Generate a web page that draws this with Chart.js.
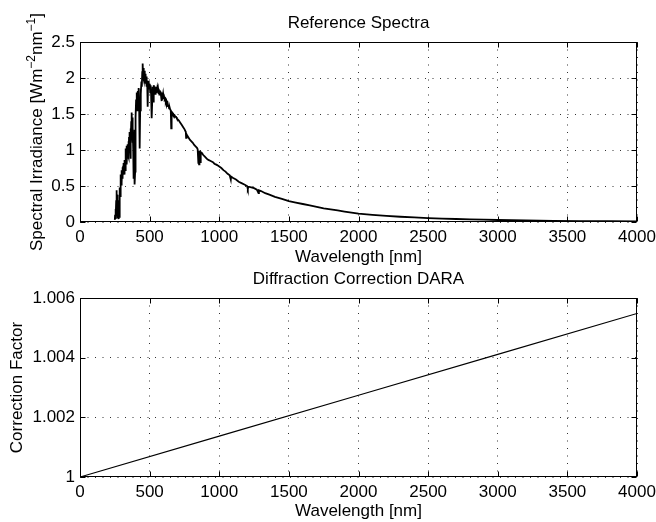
<!DOCTYPE html>
<html>
<head>
<meta charset="utf-8">
<script src="https://cdn.jsdelivr.net/npm/chart.js@4/dist/chart.umd.min.js"></script>
<style>
  html, body { margin: 0; padding: 0; background: #ffffff; }
  #wrap { position: relative; width: 656px; height: 522px; overflow: hidden; }
  #wrap canvas { position: absolute; left: 0; }
</style>
</head>
<body>
<div id="wrap">
  <canvas id="spectra" width="700" height="270" style="top:0px"></canvas>
  <canvas id="dara" width="700" height="256" style="top:266px"></canvas>
</div>
<script>
// Reference solar spectrum (wavelength in nm, spectral irradiance in W m^-2 nm^-1)
const wavelengthNm = [
  250, 252, 254, 256, 258, 260, 262, 264, 266, 268,
  270, 272, 274, 276, 278, 280, 282, 284, 286, 288,
  290, 292, 294, 296, 298, 300, 302, 304, 306, 308,
  310, 312, 314, 316, 318, 320, 322, 324, 326, 328,
  330, 332, 334, 336, 338, 340, 342, 344, 346, 348,
  350, 352, 354, 356, 358, 360, 362, 364, 366, 368,
  370, 372, 374, 376, 378, 380, 382, 384, 386, 388,
  390, 392, 394, 396, 398, 400,
  403, 406, 409, 412, 415, 418, 421, 424, 427, 430,
  432, 435, 438, 441, 444, 447, 450, 453, 456, 459,
  462, 465, 468, 471, 474, 477, 480, 483, 486, 489,
  492, 495, 498, 501, 504, 507, 510, 513, 516, 519,
  522, 525, 528, 531, 534, 537, 540, 543, 546, 549,
  552, 555, 558, 561, 564, 567, 570, 573, 576, 579,
  582, 585, 588, 591, 594, 597, 600, 604, 608, 612,
  616, 620, 624, 628, 632, 636, 640, 644, 648, 652,
  655, 658, 662, 666, 670, 675, 680, 685, 690, 695,
  700,
  710, 720, 730, 740, 750, 760, 762, 765, 770, 780,
  790, 800, 810, 820, 830, 840, 845, 850, 853, 855,
  858, 862, 866, 868, 875, 885, 895, 905, 915, 925,
  935, 945, 955, 965, 975, 985, 1000, 1015, 1030, 1045,
  1060, 1075, 1083, 1085, 1100, 1120, 1140, 1160, 1180, 1200,
  1205, 1210, 1230, 1250, 1270, 1282, 1285, 1300, 1330, 1360,
  1400, 1450, 1500, 1550, 1600, 1650, 1700, 1750, 1800, 1850,
  1900, 1950, 2000, 2100, 2200, 2300, 2400, 2500, 2600, 2700,
  2800, 2900, 3000, 3200, 3400, 3600, 3800, 4000
];
const irradiance = [
  0.03, 0.10, 0.04, 0.18, 0.06, 0.30, 0.44, 0.25, 0.38, 0.12,
  0.05, 0.20, 0.30, 0.08, 0.04, 0.14, 0.07, 0.32, 0.48, 0.36,
  0.58, 0.45, 0.66, 0.52, 0.72, 0.55, 0.70, 0.60, 0.76, 0.64,
  0.78, 0.68, 0.82, 0.70, 0.78, 0.66, 0.86, 0.72, 0.92, 0.80,
  1.02, 0.86, 1.06, 0.80, 0.95, 1.08, 0.88, 1.05, 0.92, 1.12,
  0.90, 1.18, 0.98, 1.25, 1.05, 1.15, 0.88, 1.30, 1.12, 1.40,
  1.22, 1.52, 1.30, 1.45, 1.10, 1.32, 1.02, 0.60, 1.20, 1.05,
  1.28, 0.85, 0.52, 0.70, 1.15, 1.45,
  1.70, 1.62, 1.80, 1.55, 1.82, 1.68, 1.86, 1.72, 1.50, 1.02,
  1.55, 1.85, 1.78, 1.95, 1.88, 2.08, 2.20, 2.02, 2.14, 1.98,
  2.10, 1.96, 2.06, 1.92, 2.02, 1.88, 1.98, 1.90, 1.60, 1.96,
  1.84, 1.94, 1.86, 1.92, 1.80, 1.90, 1.82, 1.74, 1.44, 1.70,
  1.88, 1.80, 1.66, 1.90, 1.82, 1.88, 1.78, 1.86, 1.80, 1.88,
  1.80, 1.86, 1.82, 1.85, 1.78, 1.84, 1.77, 1.83, 1.78, 1.81,
  1.75, 1.80, 1.68, 1.79, 1.74, 1.78, 1.73, 1.74, 1.70, 1.71,
  1.66, 1.68, 1.63, 1.65, 1.61, 1.62, 1.58, 1.59, 1.56, 1.55,
  1.30, 1.53, 1.52, 1.50, 1.50, 1.48, 1.48, 1.46, 1.46, 1.44,
  1.43,
  1.41, 1.38, 1.35, 1.32, 1.29, 1.25, 1.17, 1.22, 1.20, 1.17,
  1.14, 1.12, 1.10, 1.07, 1.05, 1.03, 1.01, 0.82, 0.98, 0.80,
  0.99, 0.92, 0.82, 0.97, 0.96, 0.93, 0.91, 0.89, 0.87, 0.86,
  0.85, 0.84, 0.83, 0.81, 0.80, 0.79, 0.77, 0.75, 0.72, 0.70,
  0.67, 0.65, 0.59, 0.63, 0.61, 0.59, 0.56, 0.54, 0.52, 0.50,
  0.46, 0.49, 0.48, 0.47, 0.45, 0.40, 0.44, 0.43, 0.40, 0.38,
  0.35, 0.32, 0.29, 0.27, 0.25, 0.23, 0.21, 0.19, 0.175, 0.16,
  0.145, 0.13, 0.115, 0.098, 0.084, 0.073, 0.063, 0.055, 0.048, 0.042,
  0.037, 0.032, 0.028, 0.022, 0.017, 0.013, 0.011, 0.009
];

// Diffraction correction factor (DARA)
const correctionNm = [0, 1000, 2000, 3000, 4000];
const correctionFactor = [1.0, 1.00137, 1.00274, 1.00411, 1.00548];

// Axis ticks and their labels
const wavelengthTicks = [0, 500, 1000, 1500, 2000, 2500, 3000, 3500, 4000];
const wavelengthTickLabels = ['0', '500', '1000', '1500', '2000', '2500', '3000', '3500', '4000'];
const irradianceTicks = [0, 0.5, 1, 1.5, 2, 2.5];
const irradianceTickLabels = ['0', '0.5', '1', '1.5', '2', '2.5'];
const factorTicks = [1, 1.002, 1.004, 1.006];
const factorTickLabels = ['1', '1.002', '1.004', '1.006'];

const FONT = '"Liberation Sans", Arial, Helvetica, sans-serif';
const FONT_SIZE = 17;
const PLOT_RIGHT = 637;

function pointsOf(xs, ys) {
  return xs.map((x, i) => ({ x: x, y: ys[i] }));
}

function fixedTicks(values, labels) {
  return {
    afterBuildTicks: (scale) => { scale.ticks = values.map(v => ({ value: v })); },
    callback: (value) => {
      const i = values.findIndex(v => Math.abs(v - value) < 1e-9);
      return i >= 0 ? labels[i] : '';
    }
  };
}

// Frame: solid box, inward tick marks on all four sides, titles and axis labels
const framePlugin = {
  id: 'frame',
  afterDraw(chart, args, opts) {
    const ctx = chart.ctx;
    const a = chart.chartArea;
    const xs = chart.scales.x, ys = chart.scales.y;
    const L = Math.round(a.left) + 0.5, R = Math.round(a.right) - 0.5;
    const T = Math.round(a.top) + 0.5, B = Math.round(a.bottom) - 0.5;
    const tl = 5;
    ctx.save();
    ctx.strokeStyle = '#000';
    ctx.lineWidth = 1;
    ctx.setLineDash([]);
    ctx.beginPath();
    xs.ticks.forEach(t => {
      const px = Math.round(xs.getPixelForValue(t.value)) + 0.5;
      ctx.moveTo(px, B); ctx.lineTo(px, B - tl);
      ctx.moveTo(px, T); ctx.lineTo(px, T + tl);
    });
    ys.ticks.forEach(t => {
      const py = Math.round(ys.getPixelForValue(t.value)) + 0.5;
      ctx.moveTo(L, py); ctx.lineTo(L + tl, py);
      ctx.moveTo(R, py); ctx.lineTo(R - tl, py);
    });
    ctx.stroke();
    ctx.strokeRect(L, T, R - L, B - T);

    const cx = (a.left + a.right) / 2;
    const cy = (a.top + a.bottom) / 2;
    ctx.fillStyle = '#000';
    ctx.textBaseline = 'alphabetic';
    ctx.textAlign = 'center';
    ctx.font = FONT_SIZE + 'px ' + FONT;
    ctx.fillText(opts.title, cx, opts.titleBaseline);
    ctx.fillText(opts.xTitle, cx, opts.xTitleBaseline);

    // rotated y label, built from plain and superscript runs
    const supSize = 12;
    const parts = opts.yTitle;
    let total = 0;
    parts.forEach(p => {
      ctx.font = (p.sup ? supSize : FONT_SIZE) + 'px ' + FONT;
      p.w = ctx.measureText(p.text).width;
      total += p.w;
    });
    ctx.translate(opts.yTitleX, cy);
    ctx.rotate(-Math.PI / 2);
    ctx.textAlign = 'left';
    let x = -total / 2;
    parts.forEach(p => {
      ctx.font = (p.sup ? supSize : FONT_SIZE) + 'px ' + FONT;
      ctx.fillText(p.text, x, p.sup ? -7 : 0);
      x += p.w;
    });
    ctx.restore();
  }
};

function axisOptions(min, max, values, labels, extra) {
  const ft = fixedTicks(values, labels);
  return Object.assign({
    type: 'linear',
    min: min,
    max: max,
    afterBuildTicks: ft.afterBuildTicks,
    grid: {
      color: 'rgba(0,0,0,0.8)',
      lineWidth: 1,
      drawTicks: false
    },
    border: { display: false, dash: [1, 6.5] },
    ticks: {
      color: '#000',
      font: { family: FONT, size: FONT_SIZE },
      padding: 5,
      autoSkip: false,
      maxRotation: 0,
      minRotation: 0,
      callback: ft.callback
    }
  }, extra);
}

function makeChart(id, dataset, cfg) {
  const canvas = document.getElementById(id);
  return new Chart(canvas, {
    type: 'line',
    data: { datasets: [dataset] },
    options: {
      responsive: false,
      devicePixelRatio: 1,
      animation: false,
      events: [],
      layout: { padding: { top: cfg.padTop, right: canvas.width - PLOT_RIGHT, left: 0, bottom: 0 } },
      plugins: {
        legend: { display: false },
        tooltip: { enabled: false },
        title: { display: false },
        frame: cfg.frame
      },
      scales: {
        x: axisOptions(0, 4000, wavelengthTicks, wavelengthTickLabels, {
          afterFit: (s) => { s.height = cfg.xHeight; }
        }),
        y: axisOptions(cfg.yMin, cfg.yMax, cfg.yTicks, cfg.yLabels, {
          afterFit: (s) => { s.width = 80; }
        })
      }
    },
    plugins: [framePlugin]
  });
}

makeChart('spectra', {
  data: pointsOf(wavelengthNm, irradiance),
  borderColor: '#000',
  borderWidth: 1.8,
  pointRadius: 0,
  tension: 0,
  fill: false
}, {
  padTop: 42, xHeight: 48,
  yMin: 0, yMax: 2.5, yTicks: irradianceTicks, yLabels: irradianceTickLabels,
  frame: {
    title: 'Reference Spectra', titleBaseline: 28,
    xTitle: 'Wavelength [nm]', xTitleBaseline: 262,
    yTitleX: 42,
    yTitle: [
      { text: 'Spectral Irradiance [Wm' },
      { text: '\u22122', sup: true },
      { text: 'nm' },
      { text: '\u22121', sup: true },
      { text: ']' }
    ]
  }
});

makeChart('dara', {
  data: pointsOf(correctionNm, correctionFactor),
  borderColor: '#000',
  borderWidth: 1.1,
  pointRadius: 0,
  tension: 0,
  fill: false
}, {
  padTop: 32, xHeight: 45,
  yMin: 1, yMax: 1.006, yTicks: factorTicks, yLabels: factorTickLabels,
  frame: {
    title: 'Diffraction Correction DARA', titleBaseline: 18,
    xTitle: 'Wavelength [nm]', xTitleBaseline: 250,
    yTitleX: 22,
    yTitle: [{ text: 'Correction Factor' }]
  }
});
</script>
</body>
</html>
